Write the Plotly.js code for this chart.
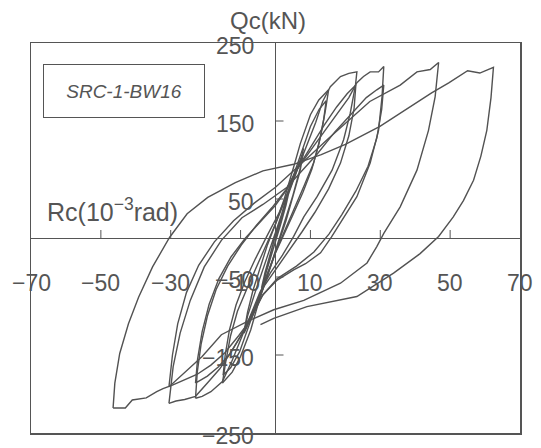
<!DOCTYPE html>
<html><head><meta charset="utf-8">
<script src="https://cdn.plot.ly/plotly-3.0.1.min.js"></script>
<style>html,body{margin:0;padding:0;background:#fff;} #chart{width:541px;height:448px;}</style>
</head><body><div id="chart"></div>
<script>
// ---- tick data ----
const xTickVals = [-50, -30, -10, 10, 30, 50];
const yTickVals = [-150, -50, 50, 150];
const xLabelVals = [-70, -50, -30, -10, 10, 30, 50, 70];
const yLabelVals = [250, 150, 50, -50, -150, -250];
const legendText = 'SRC-1-BW16';

// ---- hysteresis loops: Rc (10^-3 rad) and Qc (kN) ----
const rcSmall = [0, 1.5, 3, 4, 3, 1.5, 0, -1.5, -3, -4, -3, -1.5, 0, 1.5, 3, 4.5, 6, 7.5, 8, 7, 5, 3, 1, -1, -3, -5, -7, -9,
  -8, -6, -4, -2, 0, 2, 4, 6, 8, 7, 5, 3, 1, -1, -3, -5, -7, -9];
const qcSmall = [0, 25, 48, 62, 42, 18, -5, -28, -50, -64, -44, -20, 4, 28, 50, 70, 88, 105, 115, 88, 55, 25, -2, -30, -55, -80, -103, -122,
  -100, -72, -45, -18, 8, 35, 60, 85, 110, 85, 52, 22, -5, -32, -58, -82, -104, -120];

const rcA1 = [-9, -8, -6.5, -4.5, -2.4, 0, 2.5, 5.2, 7.1, 10, 12.4, 15.2,
  14.3, 12.9, 10.9, 8.1, 5.2, 2.4, 0, -2.5, -5.2, -7.1, -10, -12.4, -15.2];
const qcA1 = [-120, -95, -68, -40, -10, 18, 50, 91, 121, 158, 177, 190,
  164, 130, 96, 66, 36, 8, -18, -50, -88, -118, -152, -172, -186];

const rcA2 = [-15.2, -14.3, -12.9, -10.9, -8.1, -5.2, -2.4, 0, 2.5, 5, 7.5, 10, 12.5, 14.5,
  13.8, 12.4, 10.4, 7.8, 5, 2.2, -0.3, -2.8, -5.3, -7.8, -10.3, -12.8, -15];
const qcA2 = [-186, -160, -126, -94, -64, -35, -7, 18, 46, 78, 112, 143, 165, 176,
  152, 120, 88, 58, 30, 3, -22, -52, -84, -116, -146, -166, -176];

const rcB1 = [-15, -14.4, -13.2, -11.3, -8.8, -5.8, -2.5, 1, 4, 6.5, 9, 11.5, 13.5, 15.7, 18.6, 21, 23.3,
  22.9, 21.4, 19.5, 16.2, 11.9, 8.1, 5.2, 2, -1.5, -4.5, -7.2, -9.8, -12.5, -15.2, -18.5, -21, -22.9];
const qcB1 = [-176, -150, -118, -86, -56, -27, 2, 32, 62, 90, 118, 148, 175, 194, 207, 211, 213,
  196, 160, 126, 87, 53, 27, 2, -22, -45, -70, -100, -130, -158, -184, -197, -203, -205.5];

const rcB2 = [-22.9, -22.4, -21.3, -19.5, -17, -13.7, -9.8, -5.5, -1, 3, 6, 10, 14, 17.5, 20.5, 23,
  22.5, 21, 18.6, 15.2, 11.3, 7.6, 4, 0.3, -3.3, -6.6, -9.8, -13, -16.3, -19.5, -22.9];
const qcB2 = [-205.5, -172, -136, -100, -66, -36, -9, 16, 39, 62, 87, 116, 145, 168, 185, 196,
  166, 131, 96, 63, 33, 8, -15, -38, -62, -95, -125, -148, -165, -177, -186];

const rcC1 = [-22.9, -22.3, -21, -19, -16.2, -12.7, -8.6, -4.2, 0, 3.5, 6.2, 10, 14, 18, 21, 23.3, 25.2, 27.1, 29.5, 31,
  30.5, 29.5, 27.1, 23.3, 18.6, 16, 12.9, 8.6, 5.2, 0.5, -3.5, -6.8, -9.8, -12.8, -16, -19.5, -22.9, -26, -28.5, -30.5];
const qcC1 = [-186, -155, -120, -85, -52, -24, 0, 22, 42, 64, 88, 112, 137, 161, 180, 199, 207, 213, 213, 220,
  181, 138, 96, 53, 19, 1, -19, -33, -41, -54, -72, -100, -124, -147, -168, -186, -203, -207, -209, -212];

const rcC2 = [-30.5, -29.3, -27.3, -24.4, -20.4, -15.5, -9.6, -3.6, 3.3, 7.2, 12, 17, 22, 26, 29, 31,
  30.4, 29, 26.5, 23, 19, 15.3, 11, 6, 0.5, -3.8, -7, -10.5, -14.5, -18.5, -22.5, -26.5, -30.5];
const qcC2 = [-212, -165, -122, -80, -37, -3, 26, 43, 65, 84, 108, 136, 161, 180, 190, 196,
  165, 128, 92, 60, 30, 5, -18, -36, -52, -74, -104, -125, -147, -163, -175, -183, -190.6];

const rcD = [-30.5, -29.5, -28, -25.5, -22, -17.5, -12, -6, 0, 5, 10, 15, 20, 27, 35.7, 40.5, 44.3, 46.7,
  45.7, 43.8, 40.5, 35.7, 31, 29, 26.2, 18.6, 8.1, -0.5, -7.6, -15.5, -21, -26, -30.3, -32.2, -34, -37, -41, -43, -46.5];
const qcD = [-190.6, -150, -110, -70, -35, -5, 22, 45, 65, 85, 106, 127, 147, 175, 196, 213, 216, 225,
  181, 138, 87, 40, 6, -11, -32, -58, -80, -92, -106, -124, -152, -172, -190, -193, -197, -205, -207.7, -218, -218];

const rcE = [-46.5, -46, -44.6, -42.1, -39.2, -35.2, -30.3, -25.3, -19.4, -11.5, -3.6, 5.2, 13.1, 20, 29.9, 36.8, 44.7, 49.6, 55, 58.5, 62.4,
  61.7, 60.5, 58.8, 56.7, 53.8, 50.9, 46.7, 41.4, 33.8, 23.3, 9, -0.5, -4.3];
const qcE = [-218, -186, -148, -110, -76, -37, 1, 31, 52, 71, 86, 94.5, 107, 120, 143, 163, 186, 199, 214.5, 211.5, 218.7,
  180, 138, 105, 74, 48, 27, 2, -20, -45, -75, -88, -103, -111];

const loops = [
  [rcSmall, qcSmall], [rcA1, qcA1], [rcA2, qcA2], [rcB1, qcB1], [rcB2, qcB2],
  [rcC1, qcC1], [rcC2, qcC2], [rcD, qcD], [rcE, qcE]
];

const lineColor = '#525252';
const textColor = '#555';
const fontFam = '"Liberation Sans", Arial, sans-serif';

const traces = loops.map(([x, y]) => ({
  x: x, y: y, type: 'scatter', mode: 'lines',
  line: {color: lineColor, width: 1.4},
  hoverinfo: 'skip', showlegend: false
}));

const shapes = [];
xTickVals.forEach(v => shapes.push({
  type: 'line', xref: 'x', yref: 'y', x0: v, x1: v,
  ysizemode: 'pixel', yanchor: 0, y0: 0, y1: 8,
  line: {color: textColor, width: 1}
}));
yTickVals.forEach(v => shapes.push({
  type: 'line', xref: 'x', yref: 'y', y0: v, y1: v,
  xsizemode: 'pixel', xanchor: 0, x0: 0, x1: 8,
  line: {color: textColor, width: 1}
}));

const annotations = [];
xLabelVals.forEach(v => annotations.push({
  x: v, y: 0, xref: 'x', yref: 'y', showarrow: false,
  text: (v < 0 ? '\u2212' + Math.abs(v) : String(v)),
  xanchor: 'center', yanchor: 'middle', yshift: -45,
  font: {family: fontFam, size: 23, color: textColor}
}));
yLabelVals.forEach(v => annotations.push({
  x: 0, y: v, xref: 'x', yref: 'y', showarrow: false,
  text: (v < 0 ? '\u2212' + Math.abs(v) : String(v)),
  xanchor: 'right', yanchor: 'middle', xshift: -20, yshift: -3,
  font: {family: fontFam, size: 23, color: textColor}
}));
annotations.push({
  x: 0, y: 1, xref: 'x', yref: 'paper', showarrow: false,
  text: 'Qc(kN)', xanchor: 'center', yanchor: 'middle', xshift: -8, yshift: 23,
  font: {family: fontFam, size: 24, color: textColor}
});
annotations.push({
  x: 0.0286, y: 0, xref: 'paper', yref: 'y', showarrow: false,
  text: 'Rc(10<sup>\u22123</sup>rad)', xanchor: 'left', yanchor: 'middle', yshift: 28,
  font: {family: fontFam, size: 25, color: textColor}
});
annotations.push({
  x: 0.19, y: 0.878, xref: 'paper', yref: 'paper', showarrow: false,
  text: '<i>' + legendText + '</i>', xanchor: 'center', yanchor: 'middle',
  width: 160, height: 52, borderpad: 0, borderwidth: 1, bordercolor: textColor,
  bgcolor: 'rgba(255,255,255,0)',
  font: {family: fontFam, size: 19, color: textColor}
});

const axisCommon = {
  showgrid: false, zeroline: true, zerolinecolor: textColor, zerolinewidth: 1,
  showline: true, mirror: true, linecolor: textColor, linewidth: 1.5,
  showticklabels: false, ticks: '', fixedrange: true
};

const layout = {
  width: 541, height: 448,
  margin: {l: 31, r: 21, t: 43, b: 15},
  paper_bgcolor: '#fff', plot_bgcolor: '#fff',
  xaxis: Object.assign({range: [-70, 70]}, axisCommon),
  yaxis: Object.assign({range: [-250, 250]}, axisCommon),
  shapes: shapes,
  annotations: annotations
};

Plotly.newPlot('chart', traces, layout, {staticPlot: true, displayModeBar: false});
</script>
</body></html>
